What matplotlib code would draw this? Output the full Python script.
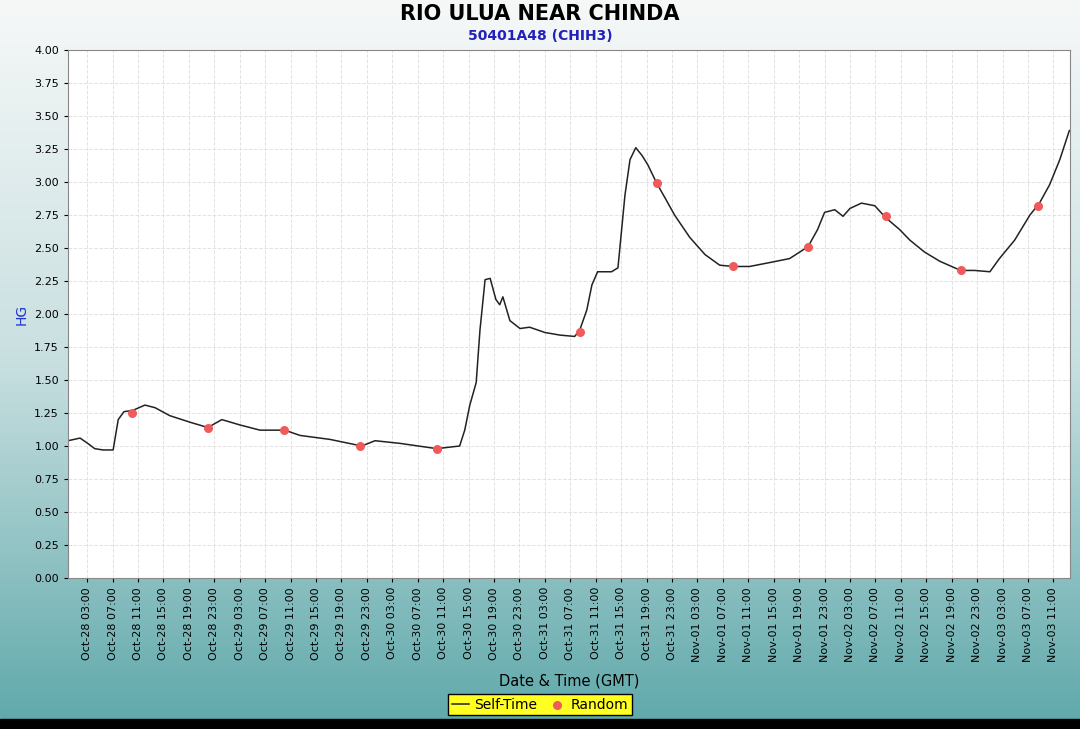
import matplotlib
matplotlib.use("Agg")
import matplotlib.pyplot as plt
import matplotlib.dates as mdates
import numpy as np
from matplotlib.colors import LinearSegmentedColormap

start = np.datetime64("2024-10-28T00:00")

# hours after Oct-28 00:00 and stage values
hours = [0, 1.9, 3.1, 4.2, 5.5, 7.1, 7.9, 8.8, 10.2, 12.1, 13.7, 16.0, 19.2, 22.0, 24.2,
         27.0, 30.2, 34.1, 36.5, 41.2, 46.2, 48.3, 52.2, 58.0, 61.6, 62.4, 63.2, 64.2,
         64.8, 65.6, 66.4, 67.3, 67.9, 68.4, 69.5, 71.1, 72.6, 75.0, 77.4, 79.7, 80.5,
         81.6, 82.4, 83.3, 85.5, 86.5, 87.6, 88.4, 89.3, 90.3, 91.2, 92.6, 93.9, 95.4,
         97.8, 100.2, 102.5, 104.6, 107.2, 110.4, 113.5, 116.4, 117.9, 119.0, 120.6,
         121.9, 123.0, 124.8, 126.9, 128.6, 130.8, 132.4, 134.7, 137.1, 140.4, 142.6,
         145.0, 146.5, 148.9, 151.3, 152.8, 154.4, 156.0, 157.5]
stage = [1.04, 1.06, 1.02, 0.98, 0.97, 0.97, 1.20, 1.26, 1.27, 1.31, 1.29, 1.23, 1.18,
         1.14, 1.20, 1.16, 1.12, 1.12, 1.08, 1.05, 1.00, 1.04, 1.02, 0.98, 1.00, 1.12,
         1.31, 1.48, 1.88, 2.26, 2.27, 2.11, 2.07, 2.13, 1.95, 1.89, 1.90, 1.86, 1.84,
         1.83, 1.88, 2.03, 2.22, 2.32, 2.32, 2.35, 2.90, 3.17, 3.26, 3.20, 3.13, 2.99,
         2.88, 2.75, 2.58, 2.45, 2.37, 2.36, 2.36, 2.39, 2.42, 2.51, 2.64, 2.77, 2.79,
         2.74, 2.80, 2.84, 2.82, 2.73, 2.64, 2.56, 2.47, 2.40, 2.33, 2.33, 2.32, 2.42,
         2.56, 2.75, 2.84, 2.98, 3.17, 3.39]

rand_hours = [10, 22, 34, 46, 58, 80.5, 92.6, 104.6, 116.4, 128.6, 140.4, 152.6]
rand_vals = [1.25, 1.14, 1.12, 1.00, 0.98, 1.86, 2.99, 2.36, 2.51, 2.74, 2.33, 2.82]

def to_dt(h):
    return [(start + np.timedelta64(int(round(v * 60)), "m")).astype("datetime64[ms]").astype(object) for v in h]

fig = plt.figure(figsize=(10.8, 7.29), dpi=100)

# gradient background
bg = fig.add_axes([0, 0, 1, 1], zorder=-10)
cmap = LinearSegmentedColormap.from_list("bg", ["#f6f8f8", "#c8dfe0", "#5ea8aa"])
bg.imshow(np.linspace(0, 1, 256).reshape(-1, 1), aspect="auto", cmap=cmap, extent=[0, 1, 0, 1])
bg.add_patch(plt.Rectangle((0, 0), 1, 10 / 729, color="black"))
bg.set_xlim(0, 1)
bg.set_ylim(0, 1)
bg.axis("off")

ax = fig.add_axes([68 / 1080, 1 - 578 / 729, 1002 / 1080, 528 / 729])
ax.set_facecolor("white")
line, = ax.plot(to_dt(hours), stage, color="#222222", lw=1.1, label="Self-Time")
pts = ax.scatter(to_dt(rand_hours), rand_vals, color="#f05a5a", s=30, zorder=3, label="Random")

ax.set_ylim(0, 4)
ax.set_yticks(np.arange(0, 4.01, 0.25))
ax.yaxis.set_major_formatter(plt.FormatStrFormatter("%.2f"))
ax.set_xlim(to_dt([0])[0], to_dt([157.6])[0])
ticks = to_dt(np.arange(3, 156, 4))
ax.set_xticks(ticks)
ax.xaxis.set_major_formatter(mdates.DateFormatter("%b-%d %H:%M"))
plt.setp(ax.get_xticklabels(), rotation=90)
ax.tick_params(labelsize=8, length=3)
ax.grid(True, color="#e2e2e2", ls="--", lw=0.7)
for s in ax.spines.values():
    s.set_color("#888888")

ax.set_ylabel("HG", color="#2233cc", fontsize=10)
ax.set_xlabel("Date & Time (GMT)", fontsize=10.5, labelpad=8)
fig.text(0.5, 0.981, "RIO ULUA NEAR CHINDA", ha="center", va="center", fontsize=15, fontweight="bold")
fig.text(0.5, 0.951, "50401A48 (CHIH3)", ha="center", va="center", fontsize=10, fontweight="bold", color="#2222bb")

leg = fig.legend(handles=[line, pts], loc="center", bbox_to_anchor=(0.5, 0.033), ncol=2,
                 facecolor="#ffff22", edgecolor="black", framealpha=1, fancybox=False,
                 fontsize=10, handlelength=1.2, columnspacing=0.8, handletextpad=0.4,
                 borderpad=0.25)
leg.get_frame().set_linewidth(1.0)

fig.savefig("out.png", dpi=100)
